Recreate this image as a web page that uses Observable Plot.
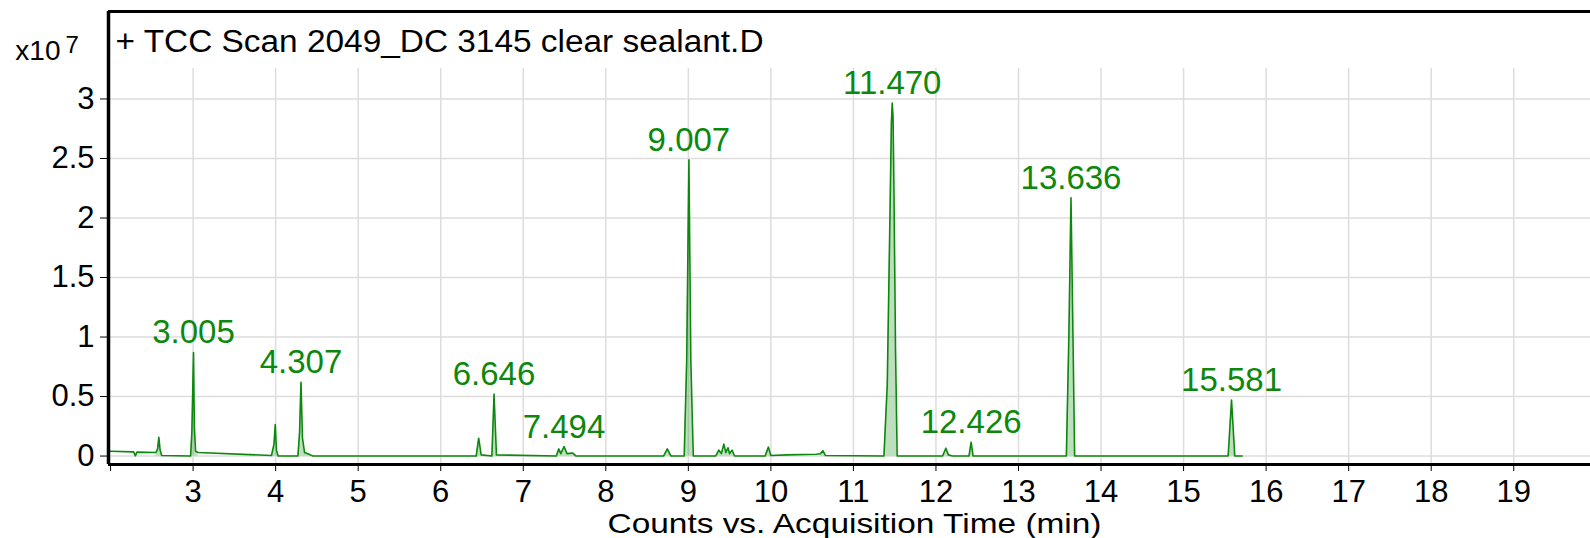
<!DOCTYPE html>
<html><head><meta charset="utf-8">
<script src="https://cdn.jsdelivr.net/npm/d3@7"></script>
<script src="https://cdn.jsdelivr.net/npm/@observablehq/plot@0.6"></script>
<style>
html,body{margin:0;padding:0;background:#fff;}
#chart svg{display:block;}
</style></head><body>
<div id="chart"></div>
<script>
// Trace (time in min, counts in units of 1e7)
const times = [2.00, 2.28, 2.30, 2.32, 2.55, 2.57, 2.585, 2.60, 2.62, 2.97, 2.985, 3.005, 3.015, 3.03, 3.06, 3.95, 3.98, 3.995, 4.01, 4.03,
  4.27, 4.29, 4.307, 4.325, 4.35, 4.42, 4.45, 6.43, 6.46, 6.49, 6.62, 6.646, 6.675, 7.40, 7.43, 7.455, 7.494, 7.53, 7.60, 7.64,
  8.70, 8.745, 8.79, 8.95, 8.98, 9.007, 9.03, 9.06, 9.33, 9.37, 9.40, 9.43, 9.455, 9.48, 9.50, 9.53, 9.56, 9.93, 9.97, 10.00,
  10.20, 10.55, 10.60, 10.63, 10.66, 11.37, 11.41, 11.44, 11.46, 11.47, 11.48, 11.49, 11.51, 11.53, 12.08, 12.12, 12.15, 12.20, 12.40, 12.426, 12.45,
  13.58, 13.61, 13.636, 13.66, 13.68, 15.54, 15.581, 15.62, 15.71];
const counts = [0.040, 0.035, 0.002, 0.033, 0.030, 0.060, 0.158, 0.050, 0.004, 0.000, 0.200, 0.870, 0.250, 0.040, 0.030, 0.005, 0.100, 0.265, 0.050, 0.000,
  0.000, 0.200, 0.620, 0.150, 0.030, 0.010, 0.000, 0.000, 0.150, 0.010, 0.000, 0.520, 0.010, 0.000, 0.060, 0.020, 0.080, 0.020, 0.025, 0.000,
  0.000, 0.060, 0.000, 0.000, 0.800, 2.490, 0.800, 0.000, 0.000, 0.050, 0.020, 0.100, 0.030, 0.070, 0.020, 0.050, 0.000, 0.000, 0.075, 0.005,
  0.010, 0.015, 0.020, 0.045, 0.005, 0.000, 0.600, 1.900, 2.800, 2.965, 2.850, 2.300, 0.900, 0.000, 0.000, 0.066, 0.010, 0.000, 0.000, 0.116, 0.000,
  0.000, 1.000, 2.170, 1.000, 0.000, 0.000, 0.470, 0.000, 0.000];

// Integrated (shaded) peak windows
const fillStart = [2.55, 2.97, 3.95, 4.27, 6.43, 6.62, 7.40, 8.70, 8.95, 9.33, 9.93, 10.60, 11.37, 12.08, 12.40, 13.58, 15.54];
const fillEnd   = [2.62, 3.06, 4.03, 4.45, 6.49, 6.675, 7.64, 8.79, 9.06, 9.56, 10.00, 10.66, 11.53, 12.15, 12.45, 13.68, 15.62];

// Labeled peaks
const peakRT = [3.005, 4.307, 6.646, 7.494, 9.007, 11.470, 12.426, 13.636, 15.581];
const peakHeight = [0.870, 0.620, 0.520, 0.080, 2.490, 2.965, 0.116, 2.170, 0.470];
const peakLabels = ["3.005", "4.307", "6.646", "7.494", "9.007", "11.470", "12.426", "13.636", "15.581"];

const xTicks = [2, 3, 4, 5, 6, 7, 8, 9, 10, 11, 12, 13, 14, 15, 16, 17, 18, 19];
const yTicks = [0, 0.5, 1, 1.5, 2, 2.5, 3];
const xDomain = [1.975, 19.93];
const yDomain = [-0.071, 3.735];
const gridTop = 3.256;

const titleText = "+ TCC Scan 2049_DC 3145 clear sealant.D";
const xLabel = "Counts vs. Acquisition Time (min)";
const yScaleBase = "x10";
const yScaleExp = "7";

const green = "#0c880c";
const trace = times.map((t, i) => ({t, c: counts[i]}));
const fills = [];
trace.forEach(d => {
  const k = fillStart.findIndex((s, j) => d.t >= s && d.t <= fillEnd[j]);
  if (k >= 0) fills.push({...d, k});
});
const peaks = peakRT.map((t, i) => ({t, c: peakHeight[i], label: peakLabels[i]}));

const chart = Plot.plot({
  width: 1590, height: 538,
  marginLeft: 108, marginRight: 0, marginTop: 11, marginBottom: 74,
  style: {fontFamily: "'Liberation Sans', Arial, sans-serif", fontSize: "31px", color: "#000", background: "#fff", overflow: "visible"},
  x: {domain: xDomain, ticks: xTicks, tickSize: 7, tickPadding: 8, tickFormat: d => d === 2 ? "" : String(d), label: null},
  y: {domain: yDomain, ticks: yTicks, tickSize: 8, tickPadding: 6, tickFormat: d => String(d), label: null},
  marks: [
    Plot.ruleY(yTicks, {stroke: "#dddddd", strokeWidth: 1.5}),
    Plot.ruleX(xTicks.slice(1), {y1: yDomain[0], y2: gridTop, stroke: "#dddddd", strokeWidth: 1.5}),
    Plot.areaY(fills, {x: "t", y: "c", z: "k", fill: green, fillOpacity: 0.27, curve: "linear"}),
    Plot.line(trace, {x: "t", y: "c", stroke: green, strokeWidth: 1.6, curve: "linear"}),
    Plot.text(peaks, {x: "t", y: "c", text: "label", dy: -9, lineAnchor: "bottom", fill: green, fontSize: 33}),
    Plot.ruleX([xDomain[0]], {stroke: "#000", strokeWidth: 3.5}),
    Plot.ruleY([yDomain[0], yDomain[1]], {stroke: "#000", strokeWidth: 3}),
    Plot.text([titleText], {frameAnchor: "top-left", dx: 7, dy: 40, lineAnchor: "bottom", textAnchor: "start", fontSize: 31, fill: "#000"}),
    Plot.text([xLabel], {frameAnchor: "bottom", dx: 5, dy: 68, lineAnchor: "bottom", fontSize: 28, fill: "#000"}),
    Plot.text([yScaleBase], {frameAnchor: "top-left", dx: -48, dy: 48, lineAnchor: "bottom", textAnchor: "end", fontSize: 28, fill: "#000"}),
    Plot.text([yScaleExp], {frameAnchor: "top-left", dx: -43, dy: 41, lineAnchor: "bottom", textAnchor: "start", fontSize: 24, fill: "#000"})
  ]
});
document.getElementById("chart").appendChild(chart);

// Match the slightly wider lettering of the title and axis label
const widths = new Map([[titleText, 648], [xLabel, 494]]);
chart.querySelectorAll("text").forEach(el => {
  const w = widths.get(el.textContent);
  if (w) {
    el.setAttribute("textLength", w);
    el.setAttribute("lengthAdjust", "spacingAndGlyphs");
  }
});
</script>
</body></html>
